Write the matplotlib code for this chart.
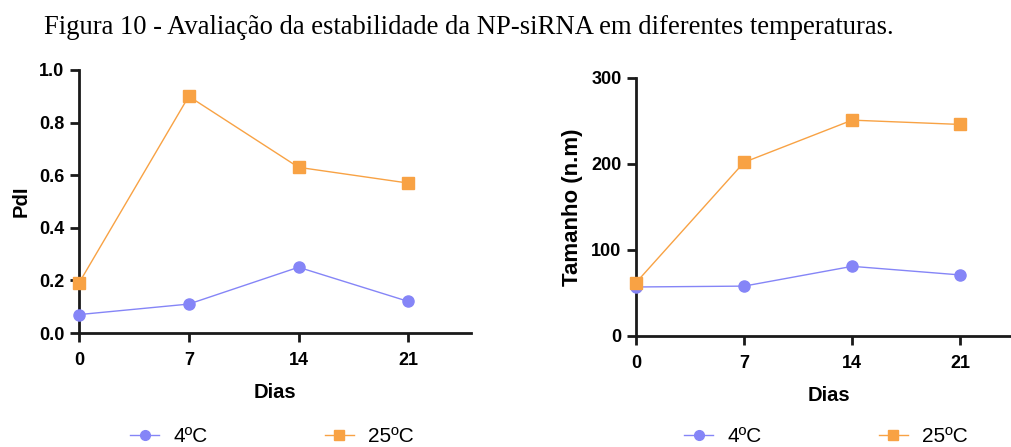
import matplotlib
matplotlib.use("Agg")
import matplotlib.pyplot as plt
from matplotlib.lines import Line2D

title = "Figura 10 - Avaliação da estabilidade da NP-siRNA em diferentes temperaturas."
dias = [0, 7, 14, 21]
series_labels = ["4ºC", "25ºC"]
pdi_4 = [0.07, 0.11, 0.25, 0.12]
pdi_25 = [0.19, 0.90, 0.63, 0.57]
tam_4 = [57, 58, 81, 71]
tam_25 = [62, 202, 251, 246]
pdi_ticks = [0.0, 0.2, 0.4, 0.6, 0.8, 1.0]
tam_ticks = [0, 100, 200, 300]

c4 = "#8585F7"
c25 = "#F8A244"

plt.rcParams["font.family"] = ["Liberation Sans", "DejaVu Sans"]

fig = plt.figure(figsize=(10.11, 4.47), dpi=100)
fig.text(44 / 1011, 1 - 28 / 447, title, family="Liberation Serif", fontsize=19.2,
         va="center", ha="left")

ax1 = fig.add_axes([79 / 1011, 1 - 333 / 447, 392 / 1011, 263 / 447])
ax2 = fig.add_axes([636 / 1011, 1 - 336 / 447, 386 / 1011, 258 / 447])

def style(ax, ylab, ticks, ymax, ylabsize):
    for s in ["top", "right"]:
        ax.spines[s].set_visible(False)
    for s in ["left", "bottom"]:
        ax.spines[s].set_linewidth(2.0)
        ax.spines[s].set_color("#1a1a1a")
    ax.set_xlim(0, 25)
    ax.set_ylim(0, ymax)
    ax.set_xticks(dias)
    ax.set_yticks(ticks)
    ax.tick_params(direction="out", length=6.5, width=2.0, color="#1a1a1a",
                   labelsize=13, pad=4)
    ax.tick_params(axis="x", pad=7)
    for lab in ax.get_xticklabels() + ax.get_yticklabels():
        lab.set_fontweight("bold")
    ax.set_xlabel("Dias", fontsize=14.5, fontweight="bold", labelpad=10)
    ax.set_ylabel(ylab, fontsize=ylabsize, fontweight="bold", labelpad=6)
    for sp in ax.spines.values():
        sp.set_clip_on(False)

def plot(ax, y4, y25):
    ax.plot(dias, y4, color=c4, marker="o", markersize=8, linewidth=1.0,
            clip_on=False, zorder=3)
    ax.plot(dias, y25, color=c25, marker="s", markersize=8, linewidth=1.0,
            clip_on=False, zorder=3)

plot(ax1, pdi_4, pdi_25)
plot(ax2, tam_4, tam_25)
style(ax1, "PdI", pdi_ticks, 1.0, 14.5)
style(ax2, "Tamanho (n.m)", tam_ticks, 300, 16)
ax1.set_yticklabels([f"{t:.1f}" for t in pdi_ticks], fontweight="bold")

handles = [Line2D([], [], color=c4, marker="o", markersize=7, linewidth=1.0),
           Line2D([], [], color=c25, marker="s", markersize=7, linewidth=1.0)]
for x0 in (130 / 1011, 684 / 1011):
    fig.legend(handles, series_labels, loc="center left",
               bbox_to_anchor=(x0, 1 - 437 / 447), ncol=2, frameon=False,
               fontsize=15, handlelength=1.4, handletextpad=0.7,
               columnspacing=5.6, borderpad=0, borderaxespad=0)

fig.savefig("out.png", dpi=100)
